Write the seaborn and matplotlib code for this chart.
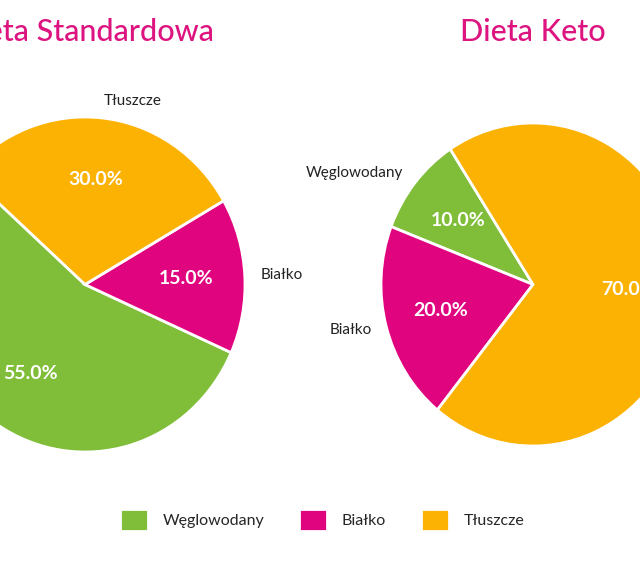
import matplotlib
matplotlib.use("Agg")
import matplotlib.pyplot as plt
import seaborn as sns

# ---- data ----
categories = ["Węglowodany", "Białko", "Tłuszcze"]
standard_values = [55, 15, 30]
keto_values = [10, 20, 70]
titles = ["Dieta Standardowa", "Dieta Keto"]
colors = ["#80BE3A", "#E1047F", "#FCB203"]
title_color = "#DD1480"

sns.set_theme(style="white")
plt.rcParams["font.family"] = ["Lato", "DejaVu Sans"]

W, H = 640, 570
fig = plt.figure(figsize=(W / 100, H / 100), dpi=100)

L = 1.05


def make_ax(cx, cy, rx, ry):
    w = 2 * rx * L
    h = 2 * ry * L
    left = (cx - rx * L) / W
    bottom = (H - (cy + ry * L)) / H
    return fig.add_axes([left, bottom, w / W, h / H])


specs = [
    (standard_values, 85, 284.5, 160, 167.5, 138),
    (keto_values, 533, 284.5, 152, 161.5, 123),
]

wedges_all = None
for (vals, cx, cy, rx, ry, start), title in zip(specs, titles):
    ax = make_ax(cx, cy, rx, ry)
    wedges, texts, autotexts = ax.pie(
        vals,
        labels=categories,
        colors=colors,
        startangle=start,
        autopct="%1.1f%%",
        pctdistance=0.63,
        labeldistance=1.1,
        wedgeprops=dict(edgecolor="white", linewidth=2),
        textprops=dict(fontsize=11, color="#222222"),
    )
    for t in autotexts:
        t.set_color("white")
        t.set_fontsize(14)
        t.set_fontweight("bold")
    ax.set_aspect("auto")
    ax.set_xlim(-L, L)
    ax.set_ylim(-L, L)
    ax.axis("off")
    fig.text(cx / W, 1 - 32 / H, title, ha="center", va="center",
             fontsize=22, color=title_color, fontweight="medium")
    if wedges_all is None:
        wedges_all = wedges

fig.legend(
    wedges_all,
    categories,
    loc="center",
    bbox_to_anchor=(322 / W, 1 - 520 / H),
    ncol=3,
    frameon=False,
    fontsize=11.5,
    handlelength=1.75,
    handleheight=1.7,
    handletextpad=0.9,
    columnspacing=2.2,
)

fig.savefig("out.png", dpi=100)
